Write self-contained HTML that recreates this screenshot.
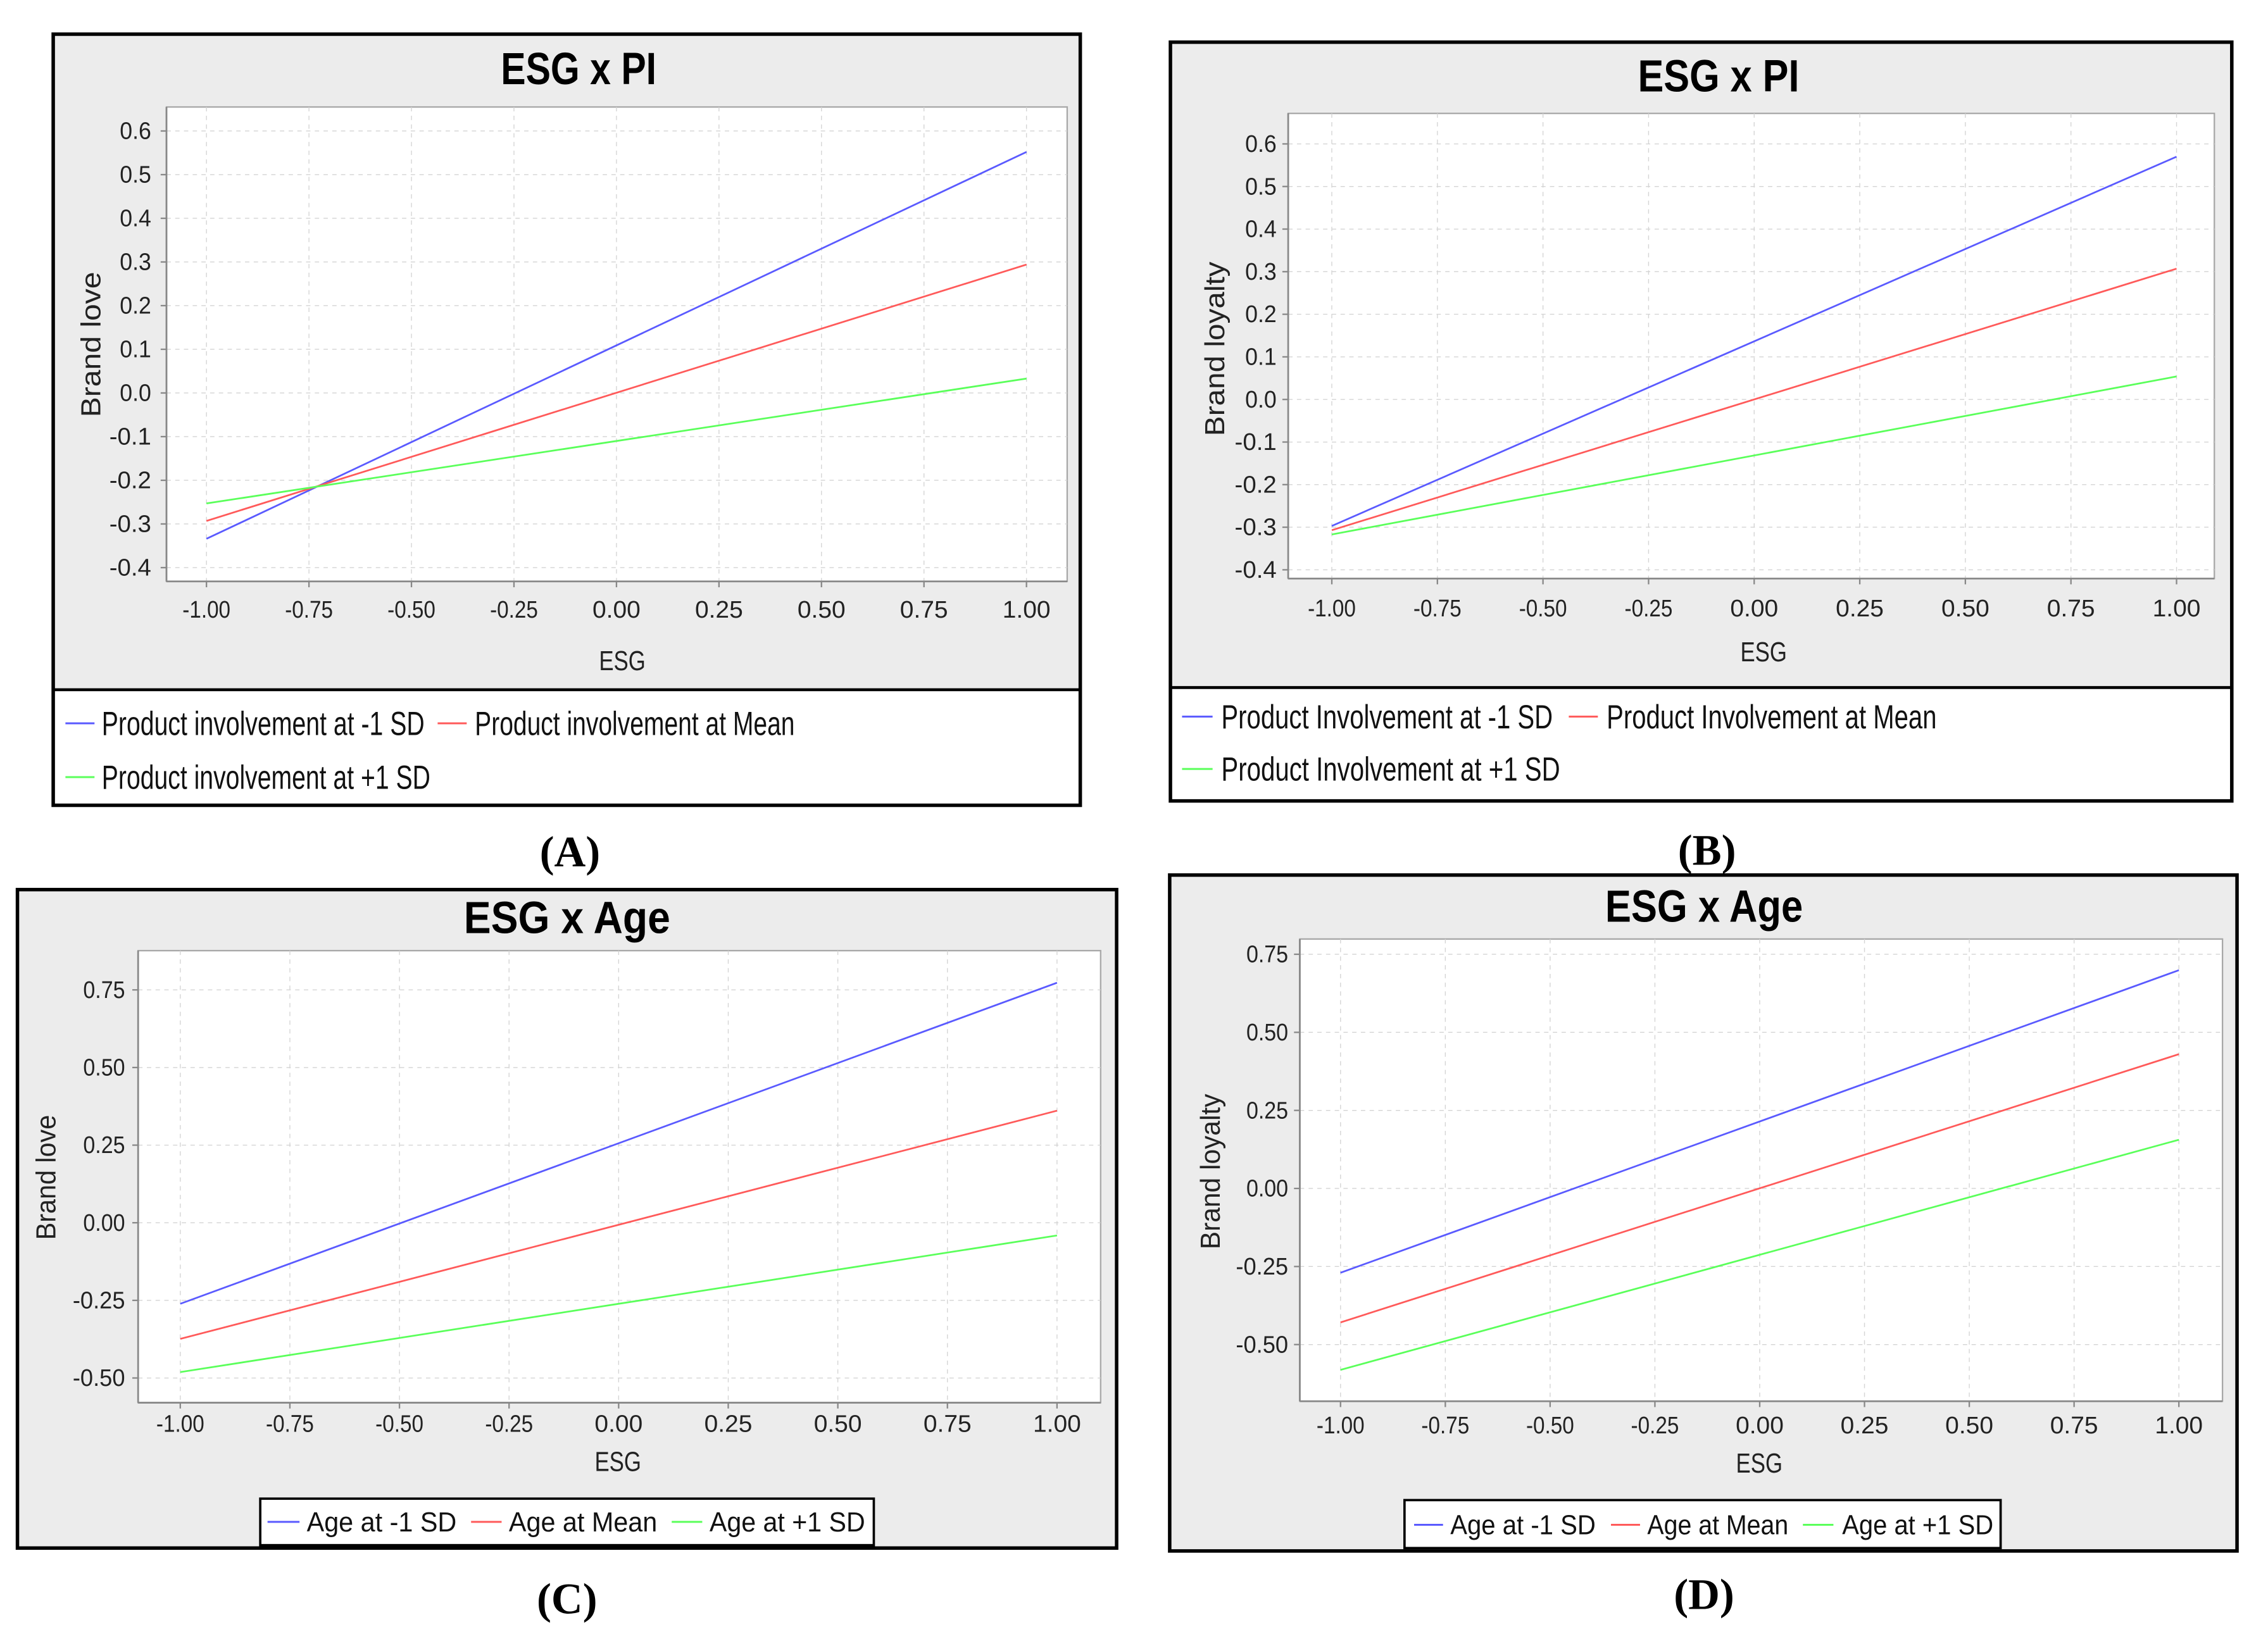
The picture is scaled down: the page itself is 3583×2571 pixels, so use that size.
<!DOCTYPE html>
<html><head><meta charset="utf-8"><title>ESG moderation plots</title>
<style>html,body{margin:0;padding:0;background:#fff;}svg{display:block;}</style></head>
<body>
<svg id="fig" xmlns="http://www.w3.org/2000/svg" width="3583" height="2571" viewBox="0 0 1559.9 1119.3" font-family="'Liberation Sans', sans-serif"></svg>
<script>
// ---- data ----
const xValues = [-1, 1];
const xTickValues = [-1, -0.75, -0.5, -0.25, 0, 0.25, 0.5, 0.75, 1];
const xTickLabels = ["-1.00","-0.75","-0.50","-0.25","0.00","0.25","0.50","0.75","1.00"];
const yTickValuesPI = [0.6,0.5,0.4,0.3,0.2,0.1,0,-0.1,-0.2,-0.3,-0.4];
const yTickLabelsPI = ["0.6","0.5","0.4","0.3","0.2","0.1","0.0","-0.1","-0.2","-0.3","-0.4"];
const yTickValuesAge = [0.75,0.5,0.25,0,-0.25,-0.5];
const yTickLabelsAge = ["0.75","0.50","0.25","0.00","-0.25","-0.50"];
const seriesA_low = [-0.334, 0.552];
const seriesA_mean = [-0.293, 0.294];
const seriesA_high = [-0.253, 0.033];
const seriesB_low = [-0.297, 0.57];
const seriesB_mean = [-0.307, 0.307];
const seriesB_high = [-0.317, 0.054];
const seriesC_low = [-0.261, 0.773];
const seriesC_mean = [-0.374, 0.361];
const seriesC_high = [-0.481, -0.041];
const seriesD_low = [-0.27, 0.699];
const seriesD_mean = [-0.429, 0.43];
const seriesD_high = [-0.581, 0.156];
const legendA = ["Product involvement at -1 SD","Product involvement at Mean","Product involvement at +1 SD"];
const legendB = ["Product Involvement at -1 SD","Product Involvement at Mean","Product Involvement at +1 SD"];
const legendAge = ["Age at -1 SD","Age at Mean","Age at +1 SD"];

const NS = "http://www.w3.org/2000/svg";
const svg = document.getElementById('fig');
const COLORS = ["#5a5aff","#ff5a5a","#5aff5a"];

function mk(tag, attrs, parent) {
  const e = document.createElementNS(NS, tag);
  for (const k in attrs) e.setAttribute(k, attrs[k]);
  (parent || svg).appendChild(e);
  return e;
}
function txt(s, attrs, parent) { const t = mk('text', attrs, parent); t.textContent = s; return t; }

const panels = [
  { id:'a', letter:'(A)', letterX:392, letterY:596, title:'ESG x PI', titleX:398, titleY:58, titleLen:107,
    box:[36.6,23.5,743,554], legTop:474.5, plot:[114.5,73.6,734,400],
    xm:[142,706], ym:[0.6,90.1,-0.4,390.5], yv:yTickValuesPI, yl:yTickLabelsPI,
    series:[seriesA_low,seriesA_mean,seriesA_high], names:legendA, ylabel:'Brand love', ylLen:100,
    ylx:62, yly:237, esgX:428, esgY:461, xtY:425, ytR:104,
    leg:[{x1:45,x2:65,y:497.6,tx:70,len:222},{x1:301,x2:321,y:497.6,tx:326.6,len:220},{x1:45,x2:65,y:534.6,tx:70,len:226}] },
  { id:'b', letter:'(B)', letterX:1174, letterY:595, title:'ESG x PI', titleX:1182, titleY:63, titleLen:111,
    box:[805,29,1535,551], legTop:473, plot:[886,78,1523,398],
    xm:[916,1497], ym:[0.6,99,-0.4,392], yv:yTickValuesPI, yl:yTickLabelsPI,
    series:[seriesB_low,seriesB_mean,seriesB_high], names:legendB, ylabel:'Brand loyalty', ylLen:120,
    ylx:835, yly:240, esgX:1213, esgY:455, xtY:424, ytR:878,
    leg:[{x1:813,x2:834,y:493,tx:840,len:228},{x1:1079,x2:1099,y:493,tx:1105,len:227},{x1:813,x2:834,y:529,tx:840,len:233}] },
  { id:'c', letter:'(C)', letterX:390, letterY:1110, title:'ESG x Age', titleX:390, titleY:642, titleLen:142,
    box:[12,612,768,1065], legTop:null, legBox:[179,1031,601,1063], plot:[95,654,757,965],
    xm:[124,727], ym:[0.75,681,-0.5,948], yv:yTickValuesAge, yl:yTickLabelsAge,
    series:[seriesC_low,seriesC_mean,seriesC_high], names:legendAge, ylabel:'Brand love', ylLen:86,
    ylx:31, yly:810, esgX:425, esgY:1012, xtY:985, ytR:86,
    leg:[{x1:184,x2:206,y:1047,tx:211,len:103},{x1:324,x2:345,y:1047,tx:350,len:102},{x1:462,x2:483,y:1047,tx:488,len:107}] },
  { id:'d', letter:'(D)', letterX:1172, letterY:1107, title:'ESG x Age', titleX:1172, titleY:634, titleLen:136,
    box:[804.5,602,1538.6,1067], legTop:null, legBox:[966,1032,1376,1065], plot:[894,646,1528.6,964],
    xm:[922,1498.6], ym:[0.75,656.5,-0.5,925], yv:yTickValuesAge, yl:yTickLabelsAge,
    series:[seriesD_low,seriesD_mean,seriesD_high], names:legendAge, ylabel:'Brand loyalty', ylLen:107,
    ylx:832, yly:806, esgX:1210, esgY:1013, xtY:986, ytR:886,
    leg:[{x1:972.6,x2:992.5,y:1049,tx:997.5,len:100},{x1:1108,x2:1128,y:1049,tx:1133,len:97},{x1:1240,x2:1261,y:1049,tx:1267,len:104}] }
];

panels.forEach(p => {
  const g = mk('g', {});
  
  
  const [bx1,by1,bx2,by2] = p.box;
  const bg = mk('rect', {x:bx1,y:by1,width:bx2-bx1,height:by2-by1,fill:'#ececec',stroke:'none'}, g);
  
  
  if (p.legTop !== null) {
    const lb = mk('rect', {x:bx1,y:p.legTop,width:bx2-bx1,height:by2-p.legTop,fill:'#fff',stroke:'#000','stroke-width':2}, g);
    
    
  }
  const fr = mk('rect', {x:bx1,y:by1,width:bx2-bx1,height:by2-by1,fill:'none',stroke:'#000','stroke-width':2.4}, g);
  
  

  const t = txt(p.title, {x:p.titleX,y:p.titleY,'text-anchor':'middle','font-weight':'bold','font-size':31,textLength:p.titleLen,lengthAdjust:'spacingAndGlyphs',fill:'#000'}, g);
  
  

  const [px1,py1,px2,py2] = p.plot;
  const pa = mk('rect', {x:px1,y:py1,width:px2-px1,height:py2-py1,fill:'#fff',stroke:'#a8a8a8','stroke-width':1}, g);
  
  

  const xs = v => p.xm[0] + (v - (-1)) / 2 * (p.xm[1] - p.xm[0]);
  const ys = v => p.ym[1] + (p.ym[0] - v) / (p.ym[0] - p.ym[2]) * (p.ym[3] - p.ym[1]);

  xTickValues.forEach((v, i) => {
    const x = xs(v);
    const gl = mk('line', {x1:x,x2:x,y1:py1,y2:py2,stroke:'#d4d4d4','stroke-width':0.6,'stroke-dasharray':'3,3'}, g);
    
    
    const tk = mk('line', {x1:x,x2:x,y1:py2,y2:py2+4,stroke:'#888','stroke-width':1}, g);
    
    
    const tl = txt(xTickLabels[i], {x:x,y:p.xtY,'text-anchor':'middle','font-size':16.5,fill:'#222',textLength:33,lengthAdjust:'spacingAndGlyphs'}, g);
    
    
  });
  p.yv.forEach((v, i) => {
    const y = ys(v);
    const gl = mk('line', {x1:px1,x2:px2,y1:y,y2:y,stroke:'#d4d4d4','stroke-width':0.6,'stroke-dasharray':'3,3'}, g);
    
    
    const tk = mk('line', {x1:px1-4,x2:px1,y1:y,y2:y,stroke:'#888','stroke-width':1}, g);
    
    
    const tl = txt(p.yl[i], {x:p.ytR,y:y+5.5,'text-anchor':'end','font-size':16.5,fill:'#222',textLength:p.yl[i].length*7.2,lengthAdjust:'spacingAndGlyphs'}, g);
    
    
  });
  const ax = mk('line', {x1:px1,x2:px2,y1:py2,y2:py2,stroke:'#888','stroke-width':1.2}, g);
  
  
  const ay = mk('line', {x1:px1,x2:px1,y1:py1,y2:py2,stroke:'#888','stroke-width':1.2}, g);
  
  

  const xt = txt('ESG', {x:p.esgX,y:p.esgY,'text-anchor':'middle','font-size':19,fill:'#222',textLength:32,lengthAdjust:'spacingAndGlyphs'}, g);
  
  
  const yt = txt(p.ylabel, {x:p.ylx,y:p.yly,'text-anchor':'middle','font-size':19,fill:'#222',transform:'rotate(-90 '+p.ylx+' '+p.yly+')',dy:7,textLength:p.ylLen,lengthAdjust:'spacingAndGlyphs'}, g);
  
  

  p.series.forEach((s, k) => {
    const ln = mk('line', {x1:xs(xValues[0]),y1:ys(s[0]),x2:xs(xValues[1]),y2:ys(s[1]),stroke:COLORS[k],'stroke-width':1.2}, g);
    
    
  });

  if (p.legBox) {
    const [lx1,ly1,lx2,ly2] = p.legBox;
    const lb = mk('rect', {x:lx1,y:ly1,width:lx2-lx1,height:ly2-ly1,fill:'#fff',stroke:'#000','stroke-width':1.6}, g);
    
    
  }
  p.leg.forEach((L, k) => {
    const sw = mk('line', {x1:L.x1,x2:L.x2,y1:L.y,y2:L.y,stroke:COLORS[k],'stroke-width':1.3}, g);
    
    
    const small = p.legBox ? 19 : 23;
    const lt = txt(p.names[k], {x:L.tx,y:L.y+(p.legBox?6.5:8),'font-size':small,fill:'#111',textLength:L.len,lengthAdjust:'spacingAndGlyphs'}, g);
    
    
  });

  const lt = txt(p.letter, {x:p.letterX,y:p.letterY,'text-anchor':'middle','font-family':"'Liberation Serif', serif",'font-weight':'bold','font-size':30,fill:'#000'});
  
  
});
</script>
</body></html>
